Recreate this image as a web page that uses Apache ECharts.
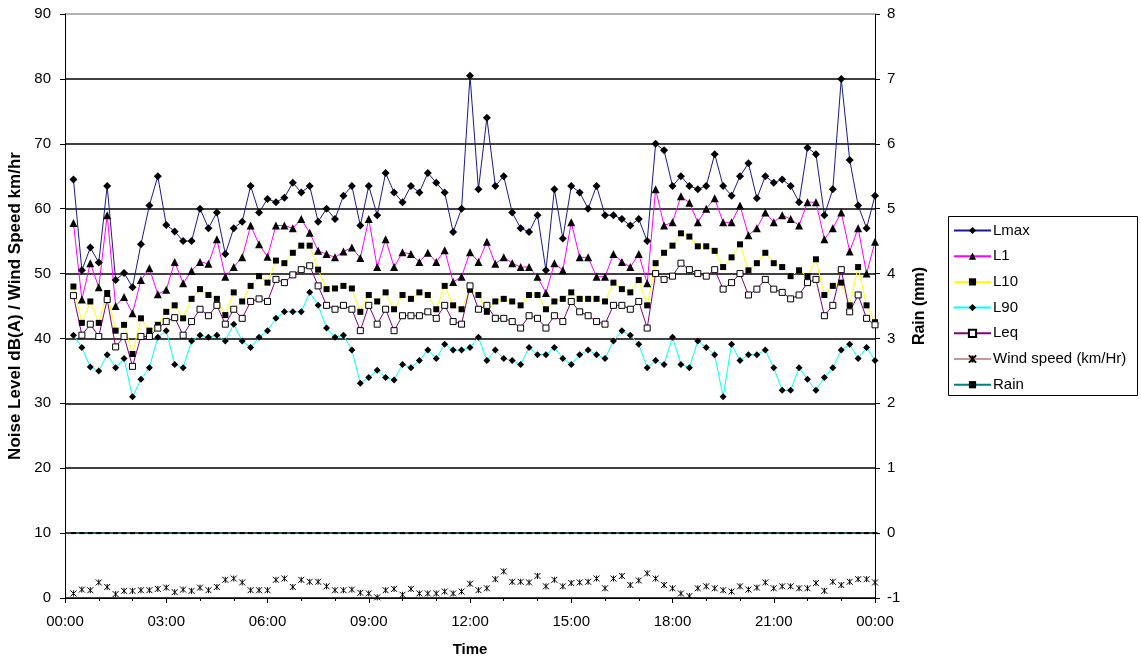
<!DOCTYPE html>
<html>
<head>
<meta charset="utf-8">
<script src="https://cdn.jsdelivr.net/npm/echarts@6/dist/echarts.min.js"></script>
<style>
html,body{margin:0;padding:0;background:#fff;}
#chart{width:1141px;height:662px;}
</style>
</head>
<body>
<div id="chart"></div>
<script>
// Time axis tick labels (every 3 hours)
const tickLabels = ["00:00","03:00","06:00","09:00","12:00","15:00","18:00","21:00","00:00"];
// Readings every 15 minutes, first at 00:15, last at 24:00 (hours)
const times = Array.from({length: 96}, (_, i) => (i + 1) * 0.25);

const Lmax = [64.5,50.5,54,51.7,63.5,49,50.1,47.9,54.5,60.5,65,57.5,56.5,55,55,60,57,59.4,53,57,58,63.5,59.4,61.5,
  61,61.7,64,62.5,63.5,58,60,58.4,62,63.5,57.4,63.5,59,65.5,62.5,61,63.5,62.5,65.5,64,62.5,56.4,60,80.5,
  63,74,63.5,65,59.4,57,56.4,59,50.5,63,55.4,63.5,62.5,60,63.5,59,59,58.4,57.4,58.4,55,70,69,63.5,
  65,63.5,63,63.5,68.4,63.5,62,65,67,61.6,65,64,64.5,63.5,61,69.4,68.4,59,63,80,67.5,60.5,57,62];
const L1 = [57.8,46,51.6,47.9,59,45,46.4,43.9,49,50.8,46.8,47.5,51.8,48.5,50.4,51.8,51.5,55.3,49.5,51,52.5,57.4,54.5,52.6,
  57.4,57.4,57,58.4,56.3,53.5,53,52.5,53.4,54,52.4,58.4,51,55.3,51,53.3,53,51.8,53.2,51.8,53.6,48.7,49.5,53.3,
  51.8,54.9,51.5,52.5,51.6,51,51,49.5,47,51.6,50.5,57.9,52.5,52.5,49.5,49.5,53,51.8,51,53,48.5,63,57.4,57.9,
  61.9,60.9,57.9,60,61.6,57.9,57.9,60.5,55.9,57,59.4,57.9,59,58.4,57.4,61,61,55.3,57,59.4,53.4,57,50,54.9];
const L10 = [48,42.4,45.7,42.4,47,41.2,42.1,37.6,43.1,41.2,42.1,44.1,45.1,43.1,46.1,47.6,46.7,46.1,43.6,47.1,45.7,48.1,49.6,48.6,
  52,51.6,53.2,54.3,54.3,50.6,47.6,47.7,48.1,47.7,44.1,46.7,45.7,47.1,44.5,46.7,46.1,47.1,46.7,44.5,48.1,45.1,44.5,47.5,
  46.7,44.1,45.7,46.1,45.7,45.1,46.7,46.7,44.5,45.7,46.1,47.1,46.1,46.1,46.1,45.7,48.6,47.6,47.1,49,45.1,51.6,53.2,54.3,
  56.2,55.7,54.2,54.2,53.5,51,52.5,54.5,50.5,51.6,53.2,51.6,51,49.6,50.5,49.6,52.2,46.7,48.1,48.6,45.1,51,45.1,42.5];
const L90 = [40.5,38.6,35.6,35,37.5,35.5,36.9,31,33.7,35.5,40.2,41.2,36,35.5,39.6,40.5,40.2,40.5,39.6,42.2,39.6,38.6,40.2,41.2,
  43.1,44.1,44.1,44.1,47.1,45.1,41.6,40.2,40.5,38.2,33.1,34,35.1,34,33.6,36,35.5,36.6,38.2,36.9,39.1,38.2,38.2,38.6,
  40.2,36.6,38.2,36.9,36.6,36,38.6,37.5,37.5,38.6,36.9,36,37.5,38.2,37.5,36.9,39.6,41.2,40.5,39.1,35.5,36.6,36,40.2,
  36,35.5,39.6,38.6,37.5,31,39.1,36.6,37.5,37.5,38.2,35.5,32,32,35.5,33.7,32,34,35.5,38.2,39.1,36.9,38.6,36.6];
const Leq = [46.6,40.5,42.2,40.3,46,38.7,40.3,35.7,40.3,40.3,41.6,42.6,43.2,40.5,42.6,44.5,43.5,45.1,42.2,44.5,43.1,45.7,46.1,45.7,
  49.1,48.6,49.8,50.6,51.2,48.1,45.1,44.5,45.1,44.5,41.2,45.1,42.2,44.5,41.2,43.5,43.5,43.5,44.1,43.1,45.1,42.6,42.2,48.1,
  44.5,45.1,43.1,43.1,42.6,41.6,43.5,43.1,41.6,43.5,42.6,45.7,44.1,43.5,42.6,42.2,45.1,45.1,44.5,45.7,41.6,50,49.1,49.6,
  51.6,50.6,50,49.6,50.6,47.6,48.6,50,46.7,47.6,49.1,47.6,47.1,46.1,46.7,48.6,49.1,43.5,45.1,50.6,44.1,46.7,43.1,42.1];
const Wind = [0.7,1.3,1.2,2.4,1.7,0.6,1.1,1.1,1.2,1.2,1.4,1.6,0.9,1.3,1.1,1.6,1.2,1.7,2.8,3.0,2.4,1.2,1.2,1.2,
  2.8,3.0,1.7,2.8,2.5,2.5,1.8,1.2,1.2,1.3,0.8,0.7,0.1,1.2,1.4,0.5,1.4,0.7,0.7,0.7,1.0,0.7,1.0,2.2,
  1.2,1.5,2.9,4.1,2.5,2.5,2.4,3.4,1.8,2.8,1.8,2.3,2.4,2.5,3.0,1.5,3.0,3.4,2.0,2.7,3.8,3.0,2.0,1.5,
  0.7,0.3,1.5,1.8,1.5,1.2,1.0,1.8,1.3,1.6,2.4,1.5,1.8,1.8,1.5,1.5,2.3,1.1,2.5,2.0,2.5,2.9,2.9,2.4];
const Rain = [0,0,0,0,0,0,0,0,0,0,0,0,0,0,0,0,0,0,0,0,0,0,0,0,
  0,0,0,0,0,0,0,0,0,0,0,0,0,0,0,0,0,0,0,0,0,0,0,0,
  0,0,0,0,0,0,0,0,0,0,0,0,0,0,0,0,0,0,0,0,0,0,0,0,
  0,0,0,0,0,0,0,0,0,0,0,0,0,0,0,0,0,0,0,0,0,0,0,0];

const FONT = 'Liberation Sans, Arial, sans-serif';
const pair = arr => arr.map((v, i) => [times[i], v]);
const starPath = 'path://M0,0L10,10M10,0L0,10M5,0L5,10';

function lineSeries(name, data, color, symbol, size, fill, extra) {
  return Object.assign({
    name: name, type: 'line', data: pair(data), symbol: symbol, symbolSize: size,
    showAllSymbol: true,
    lineStyle: {color: color, width: 1},
    itemStyle: {color: fill, borderColor: '#000', borderWidth: fill === '#fff' ? 1 : 0},
    emphasis: {disabled: true}
  }, extra || {});
}

const chart = echarts.init(document.getElementById('chart'), null, {renderer: 'canvas'});
chart.setOption({
  animation: false,
  backgroundColor: '#fff',
  textStyle: {fontFamily: FONT},
  grid: {left: 65, right: 266, top: 14, bottom: 64, containLabel: false, outerBoundsMode: 'none'},
  graphic: [{
    type: 'rect', left: 948, top: 216, z: 0,
    shape: {width: 189, height: 179},
    style: {fill: '#fff', stroke: '#000', lineWidth: 1}
  }],
  legend: {
    orient: 'vertical', left: 953, top: 222, z: 5, padding: 0,
    itemWidth: 37, itemHeight: 9, itemGap: 8.7,
    textStyle: {fontSize: 15, color: '#000', fontFamily: FONT, padding: [0,0,0,-3], height: 17, lineHeight: 17},
    data: [
      {name: 'Lmax'}, {name: 'L1'}, {name: 'L10'}, {name: 'L90'}, {name: 'Leq'},
      {name: 'Wind speed (km/Hr)', lineStyle: {color: '#8b2e2e', width: 1, opacity: 1}},
      {name: 'Rain'}
    ]
  },
  xAxis: {
    type: 'value', min: 0, max: 24, interval: 3,
    name: 'Time', nameLocation: 'middle', nameGap: 44,
    nameTextStyle: {fontSize: 15, fontWeight: 'bold', color: '#000', fontFamily: FONT},
    axisLine: {lineStyle: {color: '#000', width: 1}},
    axisTick: {length: 5, lineStyle: {color: '#000'}},
    minorTick: {show: true, splitNumber: 3, length: 3, lineStyle: {color: '#000'}},
    axisLabel: {fontSize: 15, color: '#000', margin: 16, fontFamily: FONT,
      formatter: v => tickLabels[Math.round(v / 3)]},
    splitLine: {show: false}
  },
  yAxis: [{
    type: 'value', min: 0, max: 90, interval: 10, position: 'left',
    name: 'Noise Level dB(A) / Wind Speed km/hr', nameLocation: 'middle', nameGap: 38,
    nameTextStyle: {fontSize: 17, fontWeight: 'bold', color: '#000', fontFamily: FONT},
    axisLine: {show: true, lineStyle: {color: '#000', width: 1}},
    axisTick: {show: true, length: 5, lineStyle: {color: '#000'}},
    axisLabel: {fontSize: 15, color: '#000', margin: 14, fontFamily: FONT},
    splitLine: {show: true, lineStyle: {color: ['#000','#000','#000','#000','#000','#000','#000','#000','#000','#999'], width: 1.5}}
  }, {
    type: 'value', min: -1, max: 8, interval: 1, position: 'right',
    name: 'Rain (mm)', nameLocation: 'middle', nameGap: 37, nameRotate: 90,
    nameTextStyle: {fontSize: 16, fontWeight: 'bold', color: '#000', fontFamily: FONT},
    axisLine: {show: true, lineStyle: {color: '#000', width: 1}},
    axisTick: {show: true, length: 5, lineStyle: {color: '#000'}},
    axisLabel: {fontSize: 15, color: '#000', margin: 12, fontFamily: FONT},
    splitLine: {show: false}
  }],
  series: [
    lineSeries('Lmax', Lmax, '#1a1a8c', 'diamond', 8, '#000', {z: 3}),
    lineSeries('L1', L1, '#ff00ff', 'triangle', 8, '#000', {z: 3}),
    lineSeries('L10', L10, '#ffff00', 'rect', 6, '#000', {z: 3}),
    lineSeries('L90', L90, '#00ffff', 'diamond', 7, '#000', {z: 3}),
    lineSeries('Leq', Leq, '#800080', 'rect', 6, '#fff', {z: 3}),
    {
      name: 'Wind speed (km/Hr)', type: 'line', data: pair(Wind), z: 4,
      symbol: starPath, symbolSize: 6, showAllSymbol: true,
      lineStyle: {color: '#8b2e2e', width: 1, opacity: 0},
      itemStyle: {color: 'rgba(0,0,0,0)', borderColor: '#000', borderWidth: 1},
      emphasis: {disabled: true}
    },
    {
      name: 'Rain', type: 'line', data: pair(Rain), yAxisIndex: 1, z: 4,
      symbol: 'rect', symbolSize: [5, 2], showAllSymbol: true,
      lineStyle: {color: '#008080', width: 1},
      itemStyle: {color: '#000'},
      emphasis: {disabled: true}
    }
  ]
});
</script>
</body>
</html>
